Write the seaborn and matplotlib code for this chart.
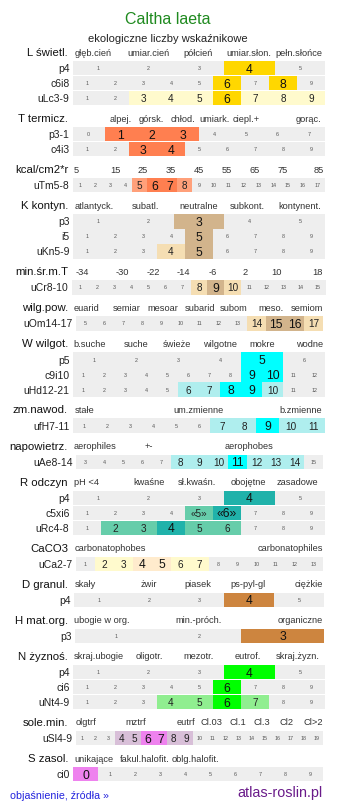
import matplotlib
matplotlib.use("Agg")
import matplotlib.pyplot as plt
import numpy as np
import seaborn as sns

sns.set_theme(style="white")
plt.rcParams['font.family'] = ['Liberation Sans', 'DejaVu Sans']

TITLE = "Caltha laeta"
SUBTITLE = "ekologiczne liczby wskaźnikowe"
FOOT_LEFT = "objaśnienie, źródła »"
FOOT_RIGHT = "atlas-roslin.pl"

def t(s):
    return s.split()

# ---------------- data ----------------
L_head = "L świetl."
L_cats = ["głęb.cień", "umiar.cień", "półcień", "umiar.słon.", "pełn.słońce"]
L_rows = ["p4", "c6i8", "uLc3-9"]
L_ticks = [t("1 2 3 4 5"), t("1 2 3 4 5 6 7 8 9"), t("1 2 3 4 5 6 7 8 9")]
L_pale = [[], [], ["3", "4", "5", "7", "8", "9"]]
L_strong = [["4"], ["6", "8"], ["6"]]

T_head = "T termicz."
T_cats = ["alpej.", "górsk.", "chłod.", "umiark.", "ciepl.+", "gorąc."]
T_rows = ["p3-1", "c4i3"]
T_ticks = [t("0 1 2 3 4 5 6 7"), t("1 2 3 4 5 6 7 8 9")]
T_pale = [[], []]
T_strong = [["1", "2", "3"], ["3", "4"]]

E_head = "kcal/cm2*r"
E_cats = ["5", "15", "25", "35", "45", "55", "65", "75", "85"]
E_rows = ["uTm5-8"]
E_ticks = [t("1 2 3 4 5 6 7 8 9 10 11 12 13 14 15 16 17")]
E_pale = [["5", "8"]]
E_strong = [["6", "7"]]

K_head = "K kontyn."
K_cats = ["atlantyck.", "subatl.", "neutralne", "subkont.", "kontynent."]
K_rows = ["p3", "i5", "uKn5-9"]
K_ticks = [t("1 2 3 4 5"), t("1 2 3 4 5 6 7 8 9"), t("1 2 3 4 5 6 7 8 9")]
K_pale = [[], [], ["4"]]
K_strong = [["3"], ["5"], ["5"]]

M_head = "min.śr.m.T"
M_cats = ["-34", "-30", "-22", "-14", "-6", "2", "10", "18"]
M_rows = ["uCr8-10"]
M_ticks = [t("1 2 3 4 5 6 7 8 9 10 11 12 13 14 15")]
M_pale = [["8", "10"]]
M_strong = [["9"]]

O_head = "wilg.pow."
O_cats = ["euarid", "semiar", "mesoar", "subarid", "subom", "meso.", "semiom"]
O_rows = ["uOm14-17"]
O_ticks = [t("5 6 7 8 9 10 11 12 13 14 15 16 17")]
O_pale = [["14", "17"]]
O_strong = [["15", "16"]]

W_head = "W wilgot."
W_cats = ["b.suche", "suche", "świeże", "wilgotne", "mokre", "wodne"]
W_rows = ["p5", "c9i10", "uHd12-21"]
W_ticks = [t("1 2 3 4 5 6"), t("1 2 3 4 5 6 7 8 9 10 11 12"),
           t("1 2 3 4 5 6 7 8 9 10 11 12")]
W_pale = [[], [], ["6", "7", "10"]]
W_strong = [["5"], ["9", "10"], ["8", "9"]]

F_head = "zm.nawod."
F_cats = ["stałe", "um.zmienne", "b.zmienne"]
F_rows = ["ufH7-11"]
F_ticks = [t("1 2 3 4 5 6 7 8 9 10 11")]
F_pale = [["7", "8", "10", "11"]]
F_strong = [["9"]]

A_head = "napowietrz."
A_cats = ["aerophiles", "+-", "aerophobes"]
A_rows = ["uAe8-14"]
A_ticks = [t("3 4 5 6 7 8 9 10 11 12 13 14 15")]
A_pale = [["8", "9", "10", "12", "13", "14"]]
A_strong = [["11"]]

R_head = "R odczyn"
R_cats = ["pH <4", "kwaśne", "sł.kwaśn.", "obojętne", "zasadowe"]
R_rows = ["p4", "c5xi6", "uRc4-8"]
R_ticks = [t("1 2 3 4 5"), t("1 2 3 4 «5» «6» 7 8 9"), t("1 2 3 4 5 6 7 8 9")]
R_pale = [[], ["«5»"], ["2", "3", "5", "6"]]
R_strong = [["4"], ["«6»"], ["4"]]

C_head = "CaCO3"
C_cats = ["carbonatophobes", "carbonatophiles"]
C_rows = ["uCa2-7"]
C_ticks = [t("1 2 3 4 5 6 7 8 9 10 11 12 13")]
C_pale = [["2", "3", "6", "7"]]
C_strong = [["4", "5"]]

D_head = "D granul."
D_cats = ["skały", "żwir", "piasek", "ps-pyl-gl", "ciężkie"]
D_rows = ["p4"]
D_ticks = [t("1 2 3 4 5")]
D_pale = [[]]
D_strong = [["4"]]

H_head = "H mat.org."
H_cats = ["ubogie w org.", "min.-próch.", "organiczne"]
H_rows = ["p3"]
H_ticks = [t("1 2 3")]
H_pale = [[]]
H_strong = [["3"]]

N_head = "N żyznoś."
N_cats = ["skraj.ubogie", "oligotr.", "mezotr.", "eutrof.", "skraj.żyzn."]
N_rows = ["p4", "ci6", "uNt4-9"]
N_ticks = [t("1 2 3 4 5"), t("1 2 3 4 5 6 7 8 9"), t("1 2 3 4 5 6 7 8 9")]
N_pale = [[], [], ["4", "5", "7"]]
N_strong = [["4"], ["6"], ["6"]]

S_head = "sole.min."
S_cats = ["olgtrf", "mztrf", "eutrf", "Cl.03", "Cl.1", "Cl.3", "Cl2", "Cl>2"]
S_rows = ["uSl4-9"]
S_ticks = [t("1 2 3 4 5 6 7 8 9 10 11 12 13 14 15 16 17 18 19")]
S_pale = [["4", "5", "8", "9"]]
S_strong = [["6", "7"]]

Z_head = "S zasol."
Z_cats = ["unikające", "fakul.halofit.", "oblg.halofit."]
Z_rows = ["ci0"]
Z_ticks = [t("0 1 2 3 4 5 6 7 8 9")]
Z_pale = [[]]
Z_strong = [["0"]]

# ---------------- style / layout ----------------
GRAY = "#eeeeee"
SECTIONS = [
    (L_head, L_cats, L_rows, L_ticks, L_pale, L_strong, "#fffacd", "#ffd700",
     [93, 148, 198, 249, 299], [(73, 325)] * 3),
    (T_head, T_cats, T_rows, T_ticks, T_pale, T_strong, "#ffa07a", "#ff7f50",
     [121, 151, 183, 215, 246, 309], [(73, 325)] * 2),
    (E_head, E_cats, E_rows, E_ticks, E_pale, E_strong, "#ffa07a", "#ff7f50",
     [76, 115, 143, 171, 199, 227, 255, 283, 319], [(73, 325)]),
    (K_head, K_cats, K_rows, K_ticks, K_pale, K_strong, "#f5deb3", "#d2b48c",
     [94, 146, 199, 247, 300], [(73, 325)] * 3),
    (M_head, M_cats, M_rows, M_ticks, M_pale, M_strong, "#f5deb3", "#d2b48c",
     [82, 122, 153, 183, 213, 245, 277, 317], [(72, 326)]),
    (O_head, O_cats, O_rows, O_ticks, O_pale, O_strong, "#f5deb3", "#d2b48c",
     [86, 127, 163, 200, 234, 271, 307], [(76, 323)]),
    (W_head, W_cats, W_rows, W_ticks, W_pale, W_strong, "#afeeee", "#00ffff",
     [90, 136, 177, 220, 262, 310], [(73, 325)] * 3),
    (F_head, F_cats, F_rows, F_ticks, F_pale, F_strong, "#afeeee", "#00ffff",
     [85, 199, 301], [(73, 325)]),
    (A_head, A_cats, A_rows, A_ticks, A_pale, A_strong, "#afeeee", "#00ffff",
     [95, 149, 249], [(76, 323)]),
    (R_head, R_cats, R_rows, R_ticks, R_pale, R_strong, "#66cdaa", "#20b2aa",
     [86, 149, 197, 248, 297], [(73, 325)] * 3),
    (C_head, C_cats, C_rows, C_ticks, C_pale, C_strong, "#fffacd", "#ffebcd",
     [110, 290], [(76, 323)]),
    (D_head, D_cats, D_rows, D_ticks, D_pale, D_strong, "#f5deb3", "#cd853f",
     [85, 149, 198, 248, 309], [(74, 324)]),
    (H_head, H_cats, H_rows, H_ticks, H_pale, H_strong, "#f5deb3", "#cd853f",
     [102, 199, 300], [(75, 324)]),
    (N_head, N_cats, N_rows, N_ticks, N_pale, N_strong, "#90ee90", "#00ff00",
     [99, 149, 199, 248, 298], [(73, 325)] * 3),
    (S_head, S_cats, S_rows, S_ticks, S_pale, S_strong, "#d8bfd8", "#ee82ee",
     [86, 136, 186, 211, 238, 262, 286, 313], [(76, 323)]),
    (Z_head, Z_cats, Z_rows, Z_ticks, Z_pale, Z_strong, "#d8bfd8", "#ee82ee",
     [94, 145, 195], [(73, 323)]),
]

W_PX, H_PX = 337, 811
fig = plt.figure(figsize=(W_PX / 100, H_PX / 100), dpi=100)
ax = fig.add_axes([0, 0, 1, 1])
ax.set_xlim(0, W_PX)
ax.set_ylim(H_PX, 0)
ax.axis("off")

ax.text(168, 20, TITLE, ha="center", va="center", fontsize=11.5, color="#1f8a1f")
ax.text(168, 38.5, SUBTITLE, ha="center", va="center", fontsize=8, color="#222222")

PITCH = 15.0
ROW_H = 14.3
SEC_GAP = 21.07
h = 53.0
for (head, cats, rows, ticks, pale, strong, c_pale, c_strong, cat_x, extents) in SECTIONS:
    ax.text(68, h, head, ha="right", va="center", fontsize=8.2, color="#111111")
    for name, cx in zip(cats, cat_x):
        ax.text(cx, h, name, ha="center", va="center", fontsize=6.7, color="#333333")
    for i, (rname, tk, pl, st, (x0, x1)) in enumerate(zip(rows, ticks, pale, strong, extents)):
        yc = h + 8 + PITCH * i + ROW_H / 2
        n = len(tk)
        w = (x1 - x0) / n
        lefts = x0 + w * np.arange(n)
        levels = [2 if v in st else (1 if v in pl else 0) for v in tk]
        colors = [c_strong if l == 2 else (c_pale if l == 1 else GRAY) for l in levels]
        ax.barh([yc] * n, [w] * n, left=lefts, height=ROW_H, color=colors, linewidth=0)
        ax.text(x0 - 3.5, yc, rname, ha="right", va="center_baseline", fontsize=7.5,
                color="#222222")
        for lbl, lv, lx in zip(tk, levels, lefts):
            fs = {0: 3.9, 1: 7.2, 2: 8.7}[lv]
            col = {0: "#555555", 1: "#222222", 2: "#111111"}[lv]
            ax.text(lx + w / 2, yc, lbl, ha="center", va="center_baseline",
                    fontsize=fs, color=col)
    h = h + SEC_GAP + PITCH * len(rows)

ax.text(10, 796, FOOT_LEFT, ha="left", va="center", fontsize=7.7, color="#2222dd")
ax.text(322, 793, FOOT_RIGHT, ha="right", va="center", fontsize=10.4, color="#6a1b8a")

fig.savefig("out.png", dpi=100)
